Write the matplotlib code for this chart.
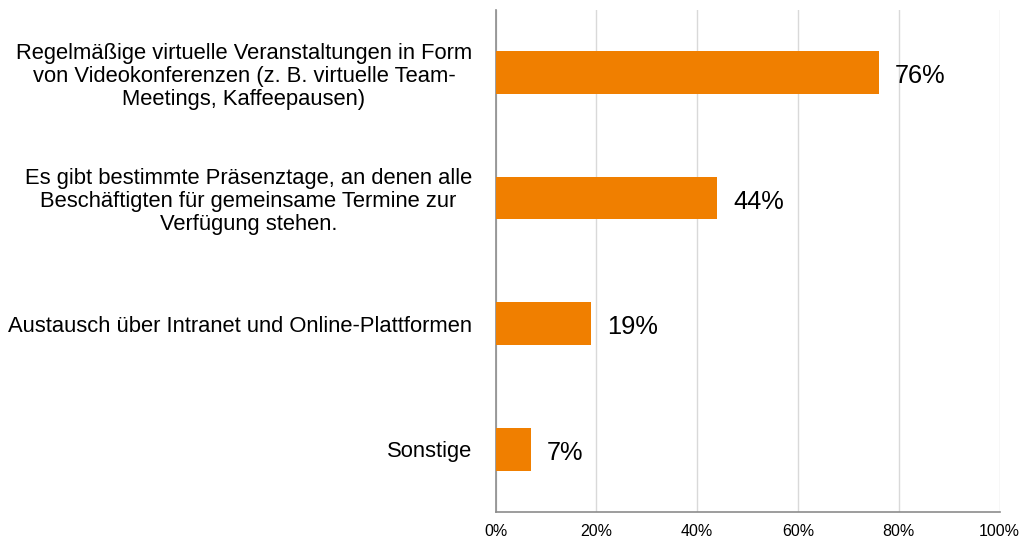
import matplotlib.pyplot as plt
from matplotlib.ticker import FuncFormatter

plt.rcParams['font.family'] = ['Liberation Sans', 'DejaVu Sans']

categories = [
    "Regelmäßige virtuelle Veranstaltungen in Form\nvon Videokonferenzen (z. B. virtuelle Team-\nMeetings, Kaffeepausen)",
    "Es gibt bestimmte Präsenztage, an denen alle\nBeschäftigten für gemeinsame Termine zur\nVerfügung stehen.",
    "Austausch über Intranet und Online-Plattformen",
    "Sonstige",
]
values = [76, 44, 19, 7]

fig = plt.figure(figsize=(10.22, 5.47), dpi=100)
ax = fig.add_axes([0.485, 0.064, 0.493, 0.918])

pos = list(range(len(categories)))
ax.barh(pos, values, height=0.34, color='#F07F00', zorder=3)
for p, v in zip(pos, values):
    ax.text(v + 3.2, p + 0.03, f"{v}%", va='center', ha='left', fontsize=18.3)

ax.set_ylim(3.5, -0.5)
ax.set_xlim(0, 100)
ax.set_yticks(pos)
ax.set_yticklabels(categories, fontsize=15.8, ha='right',
                   multialignment='center', linespacing=1.13)
ax.set_xticks([0, 20, 40, 60, 80, 100])
ax.xaxis.set_major_formatter(FuncFormatter(lambda x, _: f"{int(x)}%"))
ax.tick_params(axis='x', labelsize=11.5, length=0, pad=9)
ax.tick_params(axis='y', length=0, pad=17)
ax.grid(axis='x', color='#d9d9d9', linewidth=1, zorder=0)
for s in ['top', 'right']:
    ax.spines[s].set_visible(False)
for s in ['left', 'bottom']:
    ax.spines[s].set_color('#8c8c8c')
    ax.spines[s].set_linewidth(1.2)

fig.savefig('out.png', dpi=100)
